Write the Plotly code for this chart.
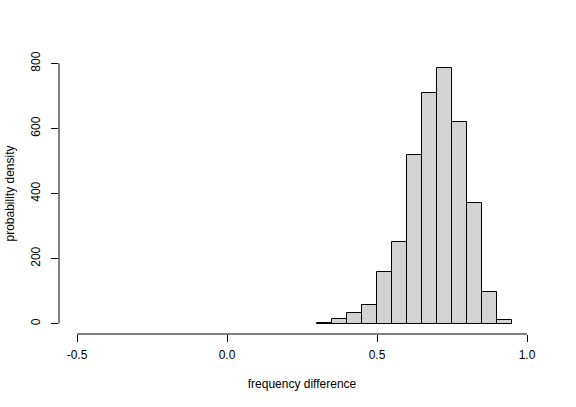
import plotly.graph_objects as go

bin_left = [0.30, 0.35, 0.40, 0.45, 0.50, 0.55, 0.60, 0.65, 0.70, 0.75, 0.80, 0.85, 0.90]
density = [2, 15, 32, 56, 158, 251, 518, 710, 785, 619, 371, 96, 12]
bin_width = 0.05
x_ticks = [-0.5, 0.0, 0.5, 1.0]
x_tick_labels = ["-0.5", "0.0", "0.5", "1.0"]
y_ticks = [0, 200, 400, 600, 800]
y_tick_labels = ["0", "200", "400", "600", "800"]

mids = [b + bin_width / 2 for b in bin_left]

fig = go.Figure()
fig.add_trace(go.Bar(
    x=mids, y=density, width=[bin_width] * len(mids),
    marker=dict(color="#D3D3D3", line=dict(color="black", width=1)),
    hoverinfo="skip",
))

font = dict(family="Liberation Sans, Arial, sans-serif", size=12, color="black")

fig.update_layout(
    width=576, height=407,
    margin=dict(l=59, r=31, t=53, b=73),
    paper_bgcolor="white", plot_bgcolor="white",
    showlegend=False, bargap=0,
    font=font,
    xaxis=dict(
        range=[-0.56, 1.06], showgrid=False, zeroline=False, showline=False,
        tickvals=x_ticks, ticktext=x_tick_labels, automargin=False,
        ticks="outside", ticklen=7, tickwidth=1, tickcolor="black",
        ticklabelstandoff=3,
        title=dict(text="frequency difference", standoff=18, font=font),
    ),
    yaxis=dict(
        range=[-32, 832], showgrid=False, zeroline=False, showline=False,
        tickvals=y_ticks, ticktext=y_tick_labels, tickangle=-90, automargin=False,
        ticks="outside", ticklen=7, tickwidth=1, tickcolor="black",
        ticklabelstandoff=6,
        title=dict(text="probability density", standoff=12, font=font),
    ),
)

fig.add_shape(type="line", xref="x", yref="paper", x0=x_ticks[0], x1=x_ticks[-1], y0=0, y1=0,
              line=dict(color="black", width=1))
fig.add_shape(type="line", xref="paper", yref="y", x0=0, x1=0, y0=y_ticks[0], y1=y_ticks[-1],
              line=dict(color="black", width=1))

fig.write_html("out.html")
